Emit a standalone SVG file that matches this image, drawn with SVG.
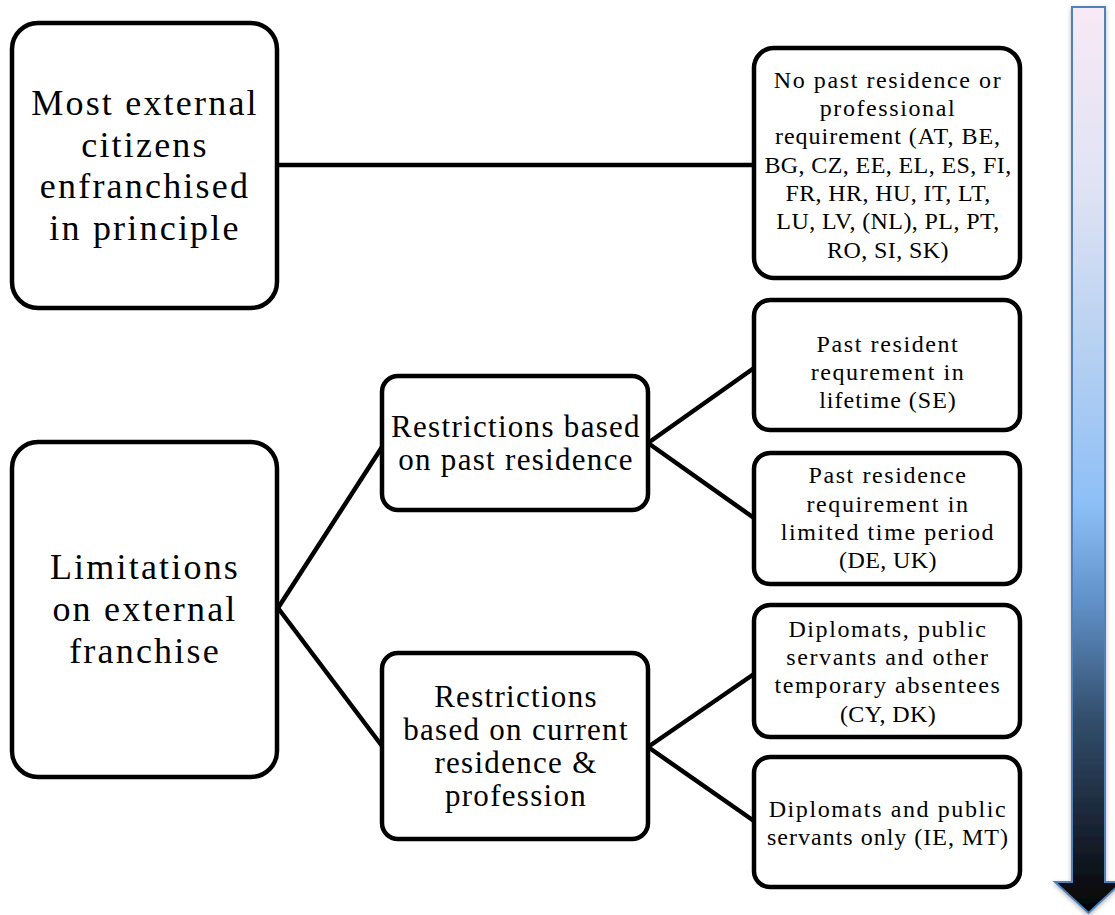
<svg xmlns="http://www.w3.org/2000/svg" width="1115" height="915" viewBox="0 0 1115 915">
<defs>
<linearGradient id="arrowGrad" x1="0" y1="0" x2="0" y2="1">
<stop offset="0" stop-color="#f8e9f6"/>
<stop offset="0.2" stop-color="#dfe3f4"/>
<stop offset="0.38" stop-color="#b6d0f1"/>
<stop offset="0.55" stop-color="#8dbff7"/>
<stop offset="0.66" stop-color="#5f8fc6"/>
<stop offset="0.78" stop-color="#34506f"/>
<stop offset="0.9" stop-color="#1a2536"/>
<stop offset="1" stop-color="#030303"/>
</linearGradient>
<filter id="shadow" x="-20%" y="-5%" width="140%" height="110%">
<feDropShadow dx="0" dy="2" stdDeviation="2" flood-color="#000" flood-opacity="0.3"/>
</filter>
</defs>
<style>
.box{fill:#fff;stroke:#000;stroke-width:4.5}
.conn{stroke:#000;stroke-width:4.5;fill:none}
text{font-family:"Liberation Serif","DejaVu Serif",serif;fill:#000;text-anchor:middle}
.big{font-size:36px;letter-spacing:2.2px}
.mid{font-size:31px;letter-spacing:1.3px}
.small{font-size:24px;letter-spacing:1.6px}
.small.mix{letter-spacing:1px}
.small.caps{letter-spacing:0.4px}
</style>
<rect width="1115" height="915" fill="#fff"/>
<g id="connectors">
<line class="conn" x1="278" y1="165" x2="754" y2="165"/>
<line class="conn" x1="278" y1="608" x2="382" y2="447"/>
<line class="conn" x1="278" y1="608" x2="382" y2="746"/>
<line class="conn" x1="648" y1="443" x2="754" y2="368"/>
<line class="conn" x1="648" y1="443" x2="754" y2="518"/>
<line class="conn" x1="648" y1="747" x2="754" y2="674"/>
<line class="conn" x1="648" y1="747" x2="754" y2="821"/>
</g>
<g id="node-most">
<rect class="box" x="12" y="23" width="265" height="285" rx="26"/>
<text class="big" x="145" y="115">Most external</text>
<text class="big" x="145" y="157">citizens</text>
<text class="big" x="145" y="198">enfranchised</text>
<text class="big" x="145" y="240">in principle</text>
</g>
<g id="node-limitations">
<rect class="box" x="12" y="442" width="265" height="335" rx="26"/>
<text class="big" x="145" y="579">Limitations</text>
<text class="big" x="145" y="621">on external</text>
<text class="big" x="145" y="663">franchise</text>
</g>
<g id="node-past">
<rect class="box" x="382" y="376" width="266" height="134" rx="16"/>
<text class="mid" x="516" y="437">Restrictions based</text>
<text class="mid" x="516" y="470">on past residence</text>
</g>
<g id="node-current">
<rect class="box" x="382" y="653" width="266" height="186" rx="16"/>
<text class="mid" x="516" y="707">Restrictions</text>
<text class="mid" x="516" y="740">based on current</text>
<text class="mid" x="516" y="773">residence &amp;</text>
<text class="mid" x="516" y="806">profession</text>
</g>
<g id="node-none">
<rect class="box" x="754" y="48" width="266" height="230" rx="20"/>
<text class="small" x="888" y="88">No past residence or</text>
<text class="small" x="888" y="116">professional</text>
<text class="small mix" x="888" y="144">requirement (AT, BE,</text>
<text class="small caps" x="888" y="173">BG, CZ, EE, EL, ES, FI,</text>
<text class="small caps" x="888" y="201">FR, HR, HU, IT, LT,</text>
<text class="small caps" x="888" y="229">LU, LV, (NL), PL, PT,</text>
<text class="small caps" x="888" y="258">RO, SI, SK)</text>
</g>
<g id="node-lifetime">
<rect class="box" x="754" y="300" width="266" height="130" rx="16"/>
<text class="small" x="888" y="352">Past resident</text>
<text class="small" x="888" y="380">requrement in</text>
<text class="small mix" x="888" y="408">lifetime (SE)</text>
</g>
<g id="node-limited">
<rect class="box" x="754" y="453" width="266" height="131" rx="16"/>
<text class="small" x="888" y="483">Past residence</text>
<text class="small" x="888" y="512">requirement in</text>
<text class="small" x="888" y="540">limited time period</text>
<text class="small caps" x="888" y="568">(DE, UK)</text>
</g>
<g id="node-diplomats-other">
<rect class="box" x="754" y="605" width="266" height="132" rx="16"/>
<text class="small" x="888" y="637">Diplomats, public</text>
<text class="small" x="888" y="665">servants and other</text>
<text class="small" x="888" y="693">temporary absentees</text>
<text class="small caps" x="888" y="722">(CY, DK)</text>
</g>
<g id="node-diplomats-only">
<rect class="box" x="754" y="757" width="266" height="130" rx="16"/>
<text class="small" x="888" y="817">Diplomats and public</text>
<text class="small mix" x="888" y="845">servants only (IE, MT)</text>
</g>
<g id="scale-arrow">
<path d="M1072,7 L1105,7 L1105,882 L1122,882 L1088.5,913 L1055,882 L1072,882 Z" fill="url(#arrowGrad)" stroke="#4f81bd" stroke-width="2" filter="url(#shadow)"/>
</g>
</svg>
